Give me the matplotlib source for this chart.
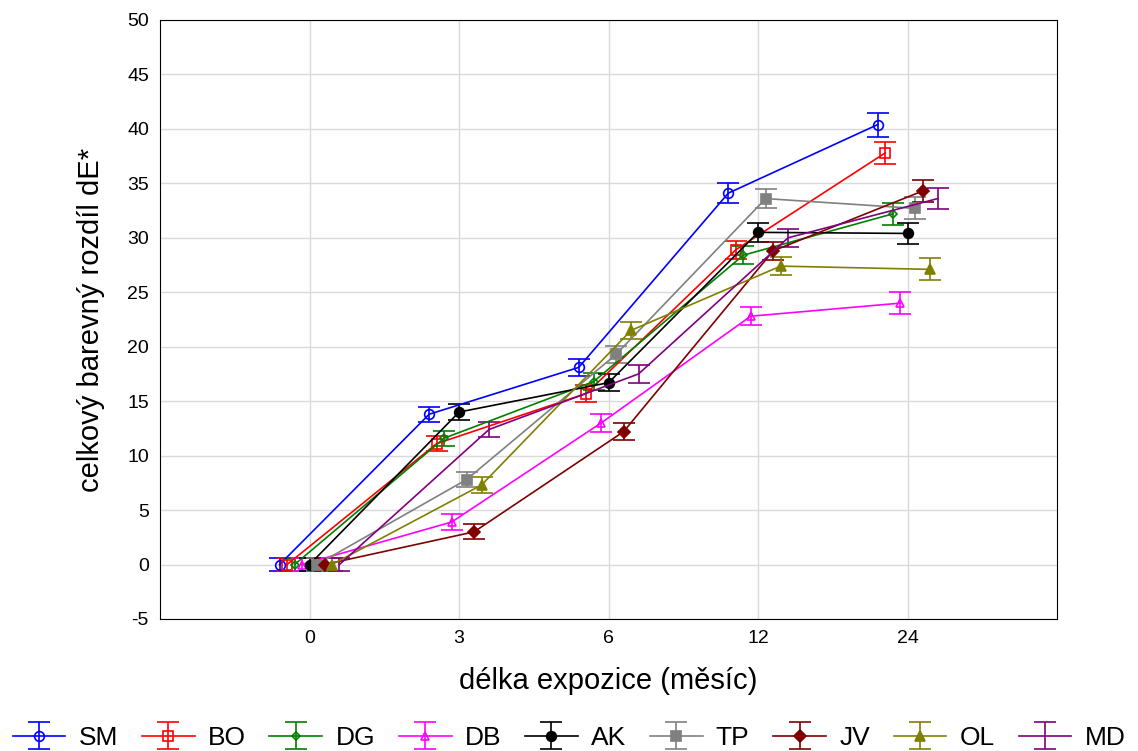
import matplotlib
matplotlib.use("Agg")
import matplotlib.pyplot as plt
import numpy as np

plt.rcParams['font.family'] = ['Liberation Sans', 'DejaVu Sans']
plt.rcParams['axes.unicode_minus'] = False

months = ['0', '3', '6', '12', '24']
series = ['SM', 'BO', 'DG', 'DB', 'AK', 'TP', 'JV', 'OL', 'MD']

sm = [0.0, 13.8, 18.1, 34.1, 40.4]
bo = [0.0, 11.1, 15.7, 28.9, 37.8]
dg = [0.0, 11.6, 16.8, 28.4, 32.2]
db = [0.0, 3.9, 13.0, 22.8, 24.0]
ak = [0.0, 14.0, 16.7, 30.5, 30.4]
tp = [0.0, 7.8, 19.3, 33.6, 32.7]
jv = [0.0, 3.0, 12.2, 28.8, 34.3]
ol = [0.0, 7.3, 21.5, 27.4, 27.1]
md = [0.0, 12.4, 17.5, 30.0, 33.6]

err_sm = [0.6, 0.7, 0.8, 0.9, 1.1]
err_other = [0.6, 0.7, 0.8, 0.85, 1.0]

colors = ['#0000ff', '#ff0000', '#008000', '#ff00ff', '#000000',
          '#808080', '#800000', '#808000', '#800080']
markers = ['o', 's', 'D', '^', 'o', 's', 'D', '^', '']
filled = [False, False, False, False, True, True, True, True, False]
msizes = [7, 6.5, 4.5, 6, 7, 7, 6, 6.5, 0]

fig = plt.figure(figsize=(11.38, 7.51), dpi=100)
ax = fig.add_axes([0.1406, 0.1758, 0.7885, 0.7976])

x = np.arange(len(months))
offsets = np.linspace(-0.2, 0.2, len(series))
data = [sm, bo, dg, db, ak, tp, jv, ol, md]
for i, name in enumerate(series):
    err = err_sm if name == 'SM' else err_other
    c = colors[i]
    ax.errorbar(x + offsets[i], data[i], yerr=err, color=c, lw=1.2,
                marker=markers[i] if markers[i] else None,
                ms=msizes[i], mfc=c if filled[i] else 'none', mec=c, mew=1.2,
                capsize=8, elinewidth=1.2, capthick=1.2, label=name)

ax.set_xlim(-1, 5)
ax.set_ylim(-5, 50)
ax.set_xticks(x)
ax.set_xticklabels(months)
ax.set_yticks(np.arange(-5, 51, 5))
ax.grid(True, color='#d9d9d9', lw=1)
ax.set_axisbelow(True)
ax.tick_params(labelsize=14, length=0, pad=8)
ax.set_xlabel('délka expozice (měsíc)', fontsize=21, labelpad=14)
ax.set_ylabel('celkový barevný rozdíl dE*', fontsize=21, labelpad=16)

fig.legend(loc='lower center', ncol=9, bbox_to_anchor=(0.5, -0.03),
           frameon=False, fontsize=19, handlelength=2.0, columnspacing=0.9,
           handletextpad=0.5)

fig.savefig('out.png', dpi=100)
